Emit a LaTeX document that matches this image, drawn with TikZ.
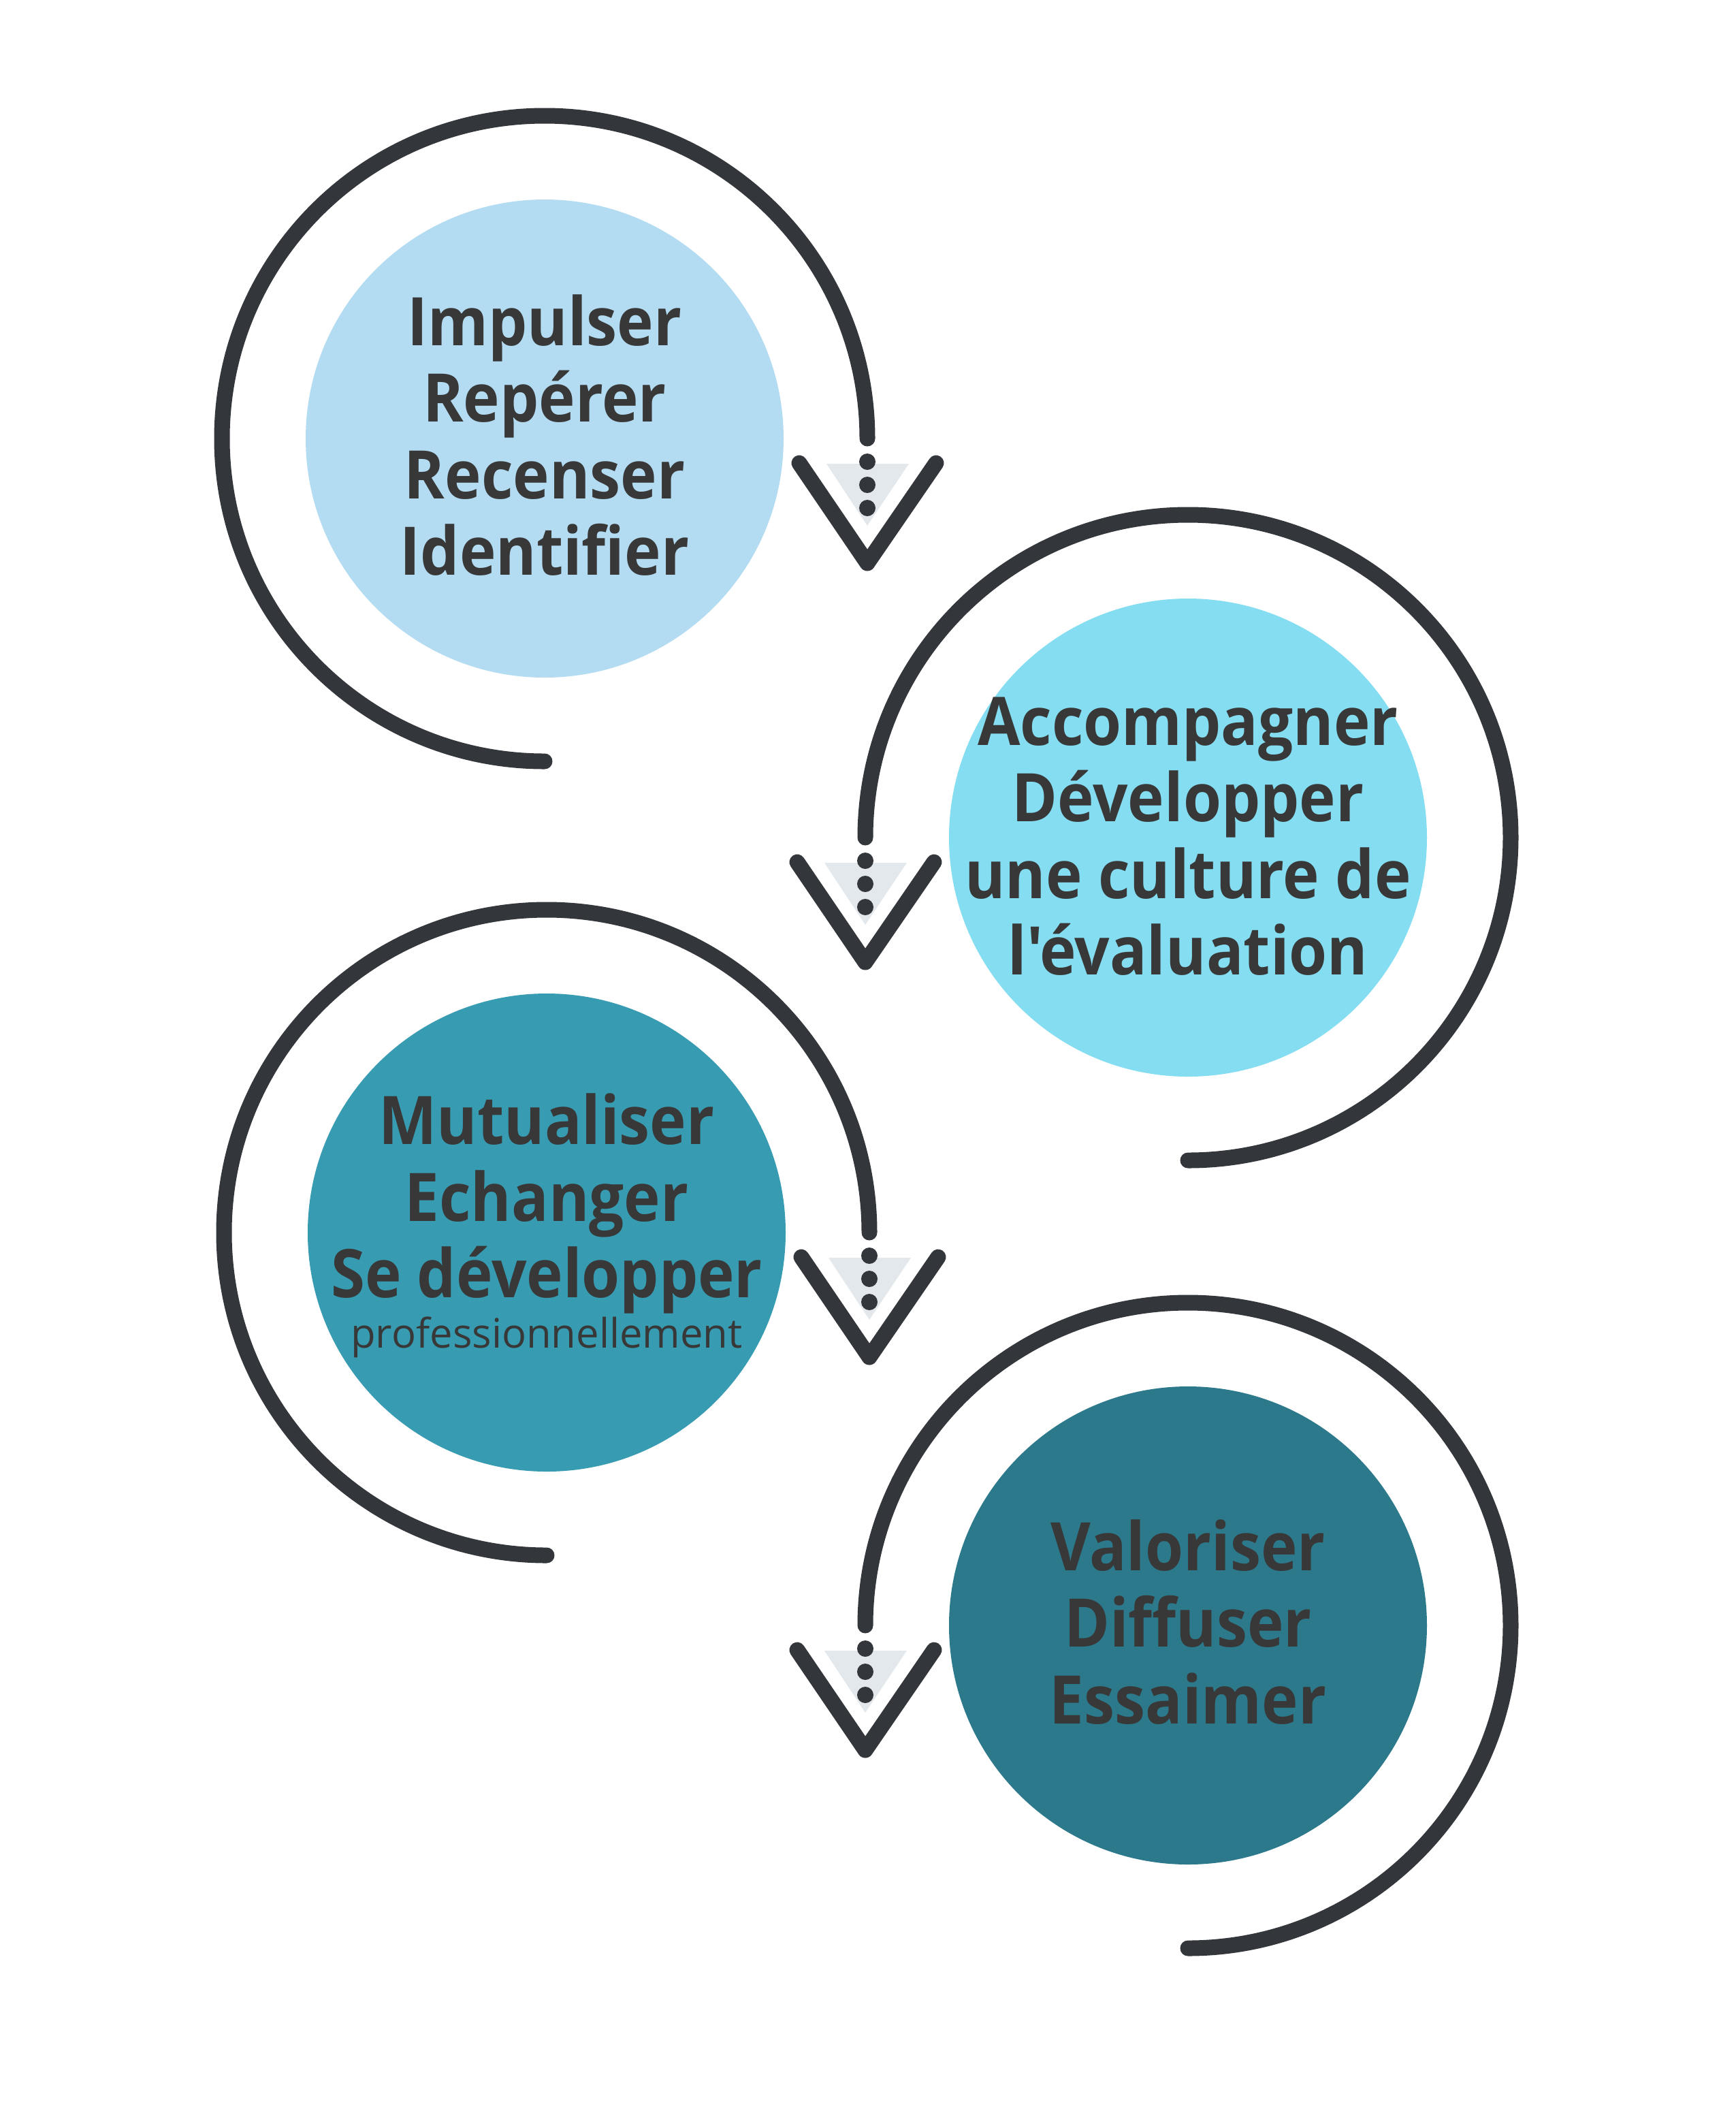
\documentclass[tikz,border=0pt]{standalone}
\usepackage{fontspec}
\setmainfont{Open Sans}[Ligatures=TeXOff, BoldFeatures={FakeStretch=0.92}]
\usepackage{xcolor}
\usepackage{tikz}
\usetikzlibrary{calc}
\definecolor{SkyLight}{HTML}{B3DCF2}
\definecolor{SkyBright}{HTML}{84DDF1}
\definecolor{TealMid}{HTML}{379BB2}
\definecolor{TealDeep}{HTML}{2C798B}
\definecolor{Ink}{HTML}{33363B}
\definecolor{TextGray}{HTML}{383838}
\definecolor{PaleGray}{HTML}{E3E8EC}

\begin{document}
\begin{tikzpicture}[
    stage/.style={circle, minimum size=7.02cm, inner sep=0pt},
    caption/.style={align=center, text=TextGray, inner sep=0pt,
                    font=\fontsize{28}{32}\selectfont\bfseries},
    ring/.style={line width=0.23cm, Ink, line cap=round, line join=round},
    downarrow/.pic={
      \fill[PaleGray] (-0.60,-0.37) -- (0.61,-0.37) -- (0,-1.28) -- cycle;
      \draw[ring] (-1.00,-0.36) -- (0,-1.83) -- (1.01,-0.36);
      \fill[Ink] (0,-0.34) circle (0.12) (0,-0.68) circle (0.12) (0,-1.02) circle (0.12);
    }
  ]
    \useasboundingbox[fill=white] (0,0) rectangle (25.5,-31.25);

    \node[stage, fill=SkyLight] (impulser) at (8.00,-6.44) {};
    \node[stage, fill=SkyBright] (accompagner) at (17.45,-12.30) {};
    \node[stage, fill=TealMid] (mutualiser) at (8.03,-18.10) {};
    \node[stage, fill=TealDeep] (valoriser) at (17.45,-23.87) {};

    \node[caption] (impulserText) at ($(impulser)+(0,0.05)$) {Impulser\\Repérer\\Recenser\\Identifier};
    \node[caption] (accompagnerText) at ($(accompagner)+(0,0.02)$) {Accompagner\\Développer\\une culture de\\l'évaluation};
    \node[caption] (mutualiserText) at ($(mutualiser)+(0,0.10)$) {Mutualiser\\Echanger\\Se développer\\[-11pt]{\fontsize{17}{21}\selectfont\mdseries professionnellement}};
    \node[caption] (valoriserText) at ($(valoriser)+(0,0.05)$) {Valoriser\\Diffuser\\Essaimer};

    % loops round each stage
    \draw[ring] ($(impulser)+(0,-4.74)$) arc[start angle=-90, end angle=-360, radius=4.74] coordinate (end1);
    \draw[ring] ($(accompagner)+(0,-4.74)$) arc[start angle=-90, end angle=180, radius=4.74] coordinate (end2);
    \draw[ring] ($(mutualiser)+(0,-4.74)$) arc[start angle=-90, end angle=-360, radius=4.74] coordinate (end3);
    \draw[ring] ($(valoriser)+(0,-4.74)$) arc[start angle=-90, end angle=180, radius=4.74] coordinate (end4);

    \pic at (end1) {downarrow};
    \pic at (end2) {downarrow};
    \pic at (end3) {downarrow};
    \pic at (end4) {downarrow};
  \end{tikzpicture}
\end{document}
